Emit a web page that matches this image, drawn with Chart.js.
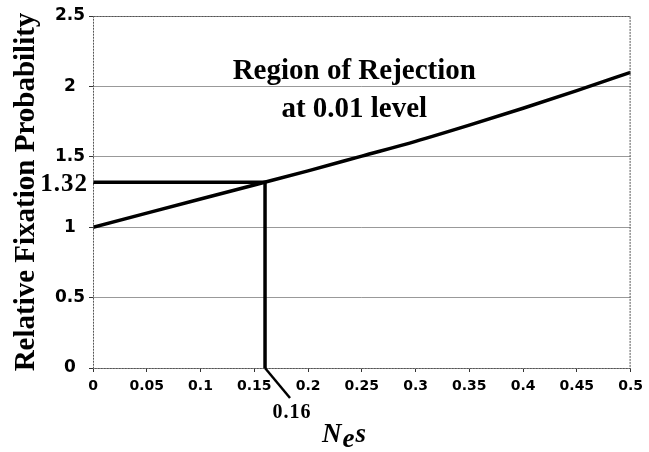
<!DOCTYPE html>
<html>
<head>
<meta charset="utf-8">
<script src="https://cdn.jsdelivr.net/npm/chart.js@4"></script>
<style>
html,body{margin:0;padding:0;background:#fff;}
#wrap{width:649px;height:452px;position:relative;}
</style>
</head>
<body>
<div id="wrap"><canvas id="c" width="649" height="452"></canvas></div>
<script>
// ---- data ----
const curveNes = [0, 0.05, 0.1, 0.15, 0.2, 0.25, 0.3, 0.35, 0.4, 0.45, 0.5];
const curveProb = [1.00, 1.10, 1.20, 1.30, 1.40, 1.505, 1.61, 1.725, 1.845, 1.97, 2.10];
const criticalNes = 0.16;
const criticalProb = 1.32;
const xTickValues = [0, 0.05, 0.1, 0.15, 0.2, 0.25, 0.3, 0.35, 0.4, 0.45, 0.5];
const xTickLabels = ['0', '0.05', '0.1', '0.15', '0.2', '0.25', '0.3', '0.35', '0.4', '0.45', '0.5'];
const yTickValues = [0, 0.5, 1, 1.5, 2, 2.5];
const yTickLabels = ['0', '0.5', '1', '1.5', '2', '2.5'];
const yAxisTitle = 'Relative Fixation Probability';
const annotationLines = ['Region of Rejection', 'at 0.01 level'];
const criticalProbLabel = '1.32';
const criticalNesLabel = '0.16';

const curvePoints = curveNes.map((x, i) => ({x: x, y: curveProb[i]}));
const thresholdPoints = [
  {x: 0, y: criticalProb},
  {x: criticalNes, y: criticalProb},
  {x: criticalNes, y: 0}
];

const overlay = {
  id: 'overlay',
  afterDraw(chart) {
    const ctx = chart.ctx;
    const xs = chart.scales.x, ys = chart.scales.y;
    const area = chart.chartArea;
    ctx.save();
    // plot border (dotted)
    ctx.strokeStyle = '#555';
    ctx.lineWidth = 1;
    ctx.setLineDash([2, 1]);
    ctx.strokeRect(area.left + 0.5, area.top + 0.5, area.right - area.left - 1, area.bottom - area.top);
    ctx.setLineDash([]);

    // leader line from critical Nes to its label
    const cx = xs.getPixelForValue(criticalNes);
    const by = ys.getPixelForValue(0);
    ctx.strokeStyle = '#000';
    ctx.lineWidth = 2.5;
    ctx.beginPath();
    ctx.moveTo(cx, by);
    ctx.lineTo(cx + 25, by + 30);
    ctx.stroke();

    ctx.fillStyle = '#000';
    // 0.16 label
    ctx.font = 'bold 20px "Liberation Serif", serif';
    ctx.textAlign = 'center';
    ctx.textBaseline = 'alphabetic';
    try { ctx.letterSpacing = '1px'; } catch (e) {}
    ctx.fillText(criticalNesLabel, cx + 27, by + 50);

    // 1.32 label
    ctx.font = 'bold 25px "Liberation Serif", serif';
    ctx.textAlign = 'right';
    ctx.textBaseline = 'middle';
    ctx.fillText(criticalProbLabel, area.left - 5, ys.getPixelForValue(criticalProb) + 2);
    try { ctx.letterSpacing = '0px'; } catch (e) {}

    // annotation
    ctx.font = 'bold 29px "Liberation Serif", serif';
    ctx.textAlign = 'center';
    ctx.textBaseline = 'alphabetic';
    const ax = xs.getPixelForValue(0.243);
    ctx.fillText(annotationLines[0], ax, ys.getPixelForValue(2.05));
    ctx.fillText(annotationLines[1], ax, ys.getPixelForValue(1.78));

    // y axis title
    ctx.save();
    ctx.translate(34, (area.top + area.bottom) / 2 + 0);
    ctx.rotate(-Math.PI / 2);
    ctx.font = 'bold 29px "Liberation Serif", serif';
    ctx.textAlign = 'center';
    ctx.textBaseline = 'alphabetic';
    ctx.fillText(yAxisTitle, 0, 0);
    ctx.restore();

    // x axis title: N_e s
    ctx.font = 'italic bold 27px "Liberation Serif", serif';
    ctx.textAlign = 'left';
    ctx.textBaseline = 'alphabetic';
    let tx = 322;
    const base = 442;
    ctx.fillText('N', tx, base);
    tx += ctx.measureText('N').width + 1;
    ctx.fillText('e', tx, base + 5);
    tx += ctx.measureText('e').width + 1;
    ctx.fillText('s', tx, base);
    ctx.restore();
  }
};

new Chart(document.getElementById('c'), {
  type: 'scatter',
  data: {
    datasets: [
      {
        data: curvePoints,
        showLine: true,
        borderColor: '#000',
        borderWidth: 3.5,
        pointRadius: 0,
        cubicInterpolationMode: 'monotone'
      },
      {
        data: thresholdPoints,
        showLine: true,
        borderColor: '#000',
        borderWidth: 3.5,
        pointRadius: 0,
        borderJoinStyle: 'miter'
      }
    ]
  },
  options: {
    responsive: false,
    animation: false,
    devicePixelRatio: 1,
    layout: {padding: {top: 16, right: 17, left: 0, bottom: 0}},
    plugins: {legend: {display: false}, tooltip: {enabled: false}, title: {display: false}},
    scales: {
      x: {
        type: 'linear',
        min: 0, max: 0.5,
        afterBuildTicks(scale) { scale.ticks = xTickValues.map(v => ({value: v})); },
        afterFit(scale) { scale.height = 84; },
        grid: {drawOnChartArea: false, drawTicks: true, tickLength: 4, tickColor: '#333', color: '#333'},
        border: {display: false},
        ticks: {
          autoSkip: false, maxRotation: 0, padding: 6,
          color: '#000',
          font: {family: '"DejaVu Sans", sans-serif', weight: 'bold', size: 14},
          callback(value, index) { return xTickLabels[index]; }
        }
      },
      y: {
        type: 'linear',
        min: 0, max: 2.5,
        afterBuildTicks(scale) { scale.ticks = yTickValues.map(v => ({value: v})); },
        afterFit(scale) { scale.width = 93; },
        grid: {drawOnChartArea: true, drawTicks: true, tickLength: 4, color: '#999', tickColor: '#333', lineWidth: 1},
        border: {display: false},
        ticks: {
          autoSkip: false, padding: 4, crossAlign: 'center',
          color: '#000',
          font: {family: '"DejaVu Sans", sans-serif', weight: 'bold', size: 17},
          callback(value, index) { return yTickLabels[index]; }
        }
      }
    }
  },
  plugins: [overlay]
});
</script>
</body>
</html>
